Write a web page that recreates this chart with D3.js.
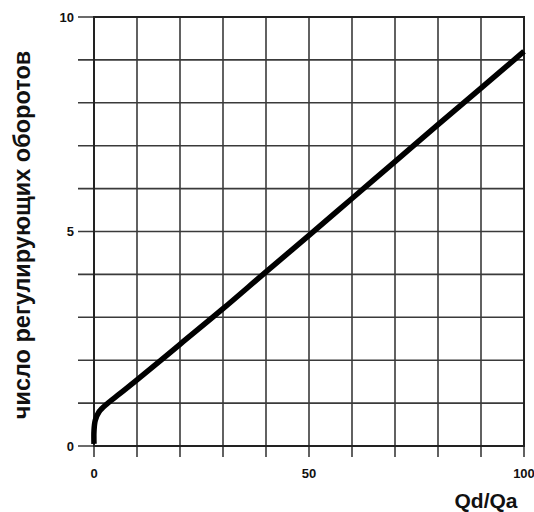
<!DOCTYPE html>
<html>
<head>
<meta charset="utf-8">
<script src="https://d3js.org/d3.v7.min.js"></script>
<style>
  body { margin: 0; background: #fff; }
  svg { display: block; font-family: "Liberation Sans", Arial, sans-serif; }
</style>
</head>
<body>
<div id="chart"></div>
<script>
// данные кривой
const qRatio = [0, 0, 0.3, 1.2, 3, 6, 10, 20, 30, 40, 50, 60, 70, 80, 90, 100];
const turns  = [0.05, 0.35, 0.6, 0.8, 0.98, 1.22, 1.54, 2.37, 3.2, 4.06, 4.91, 5.77, 6.63, 7.49, 8.34, 9.2];
const xTickLabels = [0, 50, 100];
const yTickLabels = [0, 5, 10];
const xGrid = d3.range(0, 101, 10);
const yGrid = d3.range(0, 11, 1);

const width = 534, height = 512;
const plotLeft = 94, plotRight = 524, plotTop = 17, plotBottom = 446;

const svg = d3.select("#chart").append("svg")
    .attr("width", width)
    .attr("height", height);

const x = d3.scaleLinear().domain([0, 100]).range([plotLeft, plotRight]);
const y = d3.scaleLinear().domain([0, 10]).range([plotBottom, plotTop]);

// сетка: вертикальные линии выходят вниз, горизонтальные влево
svg.append("g").selectAll("line")
    .data(xGrid)
    .join("line")
    .attr("x1", d => x(d)).attr("x2", d => x(d))
    .attr("y1", plotTop).attr("y2", plotBottom + 11)
    .attr("stroke", "#3a3a3a")
    .attr("stroke-width", 1.6);

svg.append("g").selectAll("line")
    .data(yGrid)
    .join("line")
    .attr("x1", plotLeft - 16).attr("x2", plotRight)
    .attr("y1", d => y(d)).attr("y2", d => y(d))
    .attr("stroke", "#3a3a3a")
    .attr("stroke-width", 1.6);

// рамка
svg.append("rect")
    .attr("x", plotLeft).attr("y", plotTop)
    .attr("width", plotRight - plotLeft).attr("height", plotBottom - plotTop)
    .attr("fill", "none")
    .attr("stroke", "#222")
    .attr("stroke-width", 2);

// подписи осей
svg.append("g").selectAll("text")
    .data(xTickLabels)
    .join("text")
    .attr("x", d => x(d))
    .attr("y", 478)
    .attr("text-anchor", "middle")
    .attr("font-size", 13)
    .attr("font-weight", "bold")
    .attr("fill", "#111")
    .text(d => d);

svg.append("g").selectAll("text")
    .data(yTickLabels)
    .join("text")
    .attr("x", 74)
    .attr("y", d => y(d))
    .attr("dy", "0.35em")
    .attr("text-anchor", "end")
    .attr("font-size", 13)
    .attr("font-weight", "bold")
    .attr("fill", "#111")
    .text(d => d);

// кривая
const points = qRatio.map((q, i) => [q, turns[i]]);
const line = d3.line()
    .x(d => x(d[0]))
    .y(d => y(d[1]))
    .curve(d3.curveCatmullRom.alpha(0.5));

svg.append("path")
    .datum(points)
    .attr("d", line)
    .attr("fill", "none")
    .attr("stroke", "#000")
    .attr("stroke-width", 5.5);

// названия осей
svg.append("text")
    .attr("x", 486)
    .attr("y", 508)
    .attr("text-anchor", "middle")
    .attr("font-size", 21)
    .attr("font-weight", "bold")
    .attr("fill", "#111")
    .text("Qd/Qa");

svg.append("text")
    .attr("transform", "translate(30,235) rotate(-90)")
    .attr("text-anchor", "middle")
    .attr("font-size", 23.5)
    .attr("font-weight", "bold")
    .attr("fill", "#111")
    .text("число регулирующих оборотов");
</script>
</body>
</html>
